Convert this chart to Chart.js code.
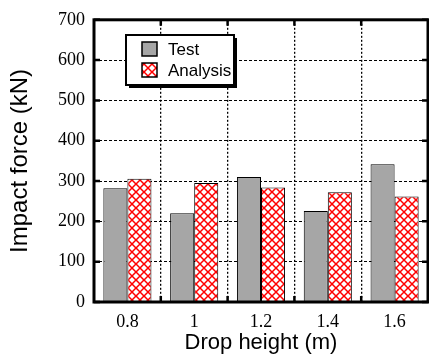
<!DOCTYPE html>
<html>
<head>
<meta charset="utf-8">
<script src="https://cdn.jsdelivr.net/npm/chart.js@4.4.0/dist/chart.umd.min.js"></script>
<style>
  html, body { margin: 0; padding: 0; background: #fff; }
  #wrap { width: 429px; height: 358px; }
</style>
</head>
<body>
<div id="wrap"><canvas id="chart"></canvas></div>
<script>
// datos
const alturas = ['0.8', '1', '1.2', '1.4', '1.6'];
const fuerzaTest = [282, 220, 310, 226, 342];
const fuerzaAnalisis = [306, 295, 284, 272, 262];
const marcasY = [0, 100, 200, 300, 400, 500, 600, 700];

const serif = '"Liberation Serif", "Times New Roman", serif';
const sans = '"Liberation Sans", Arial, sans-serif';

// patron cuadriculado rojo para "Analysis"
function crearPatron() {
    const c = document.createElement('canvas');
    c.width = 8;
    c.height = 8;
    const g = c.getContext('2d');
    g.fillStyle = '#ffffff';
    g.fillRect(0, 0, 8, 8);
    g.strokeStyle = '#ff0000';
    g.lineWidth = 1.5;
    g.beginPath();
    g.moveTo(-1, -1); g.lineTo(9, 9);
    g.moveTo(9, -1); g.lineTo(-1, 9);
    g.stroke();
    return g.createPattern(c, 'repeat');
}
const patronRojo = crearPatron();

// borde grueso, marcas hacia dentro y leyenda con sombra
const marcoPlugin = {
    id: 'marco',
    afterDraw(chart) {
        const ctx = chart.ctx;
        const a = chart.chartArea;
        const sy = chart.scales.y;
        const sx = chart.scales.x;
        ctx.save();
        ctx.strokeStyle = '#000';
        ctx.lineWidth = 3;
        ctx.strokeRect(a.left, a.top, a.right - a.left, a.bottom - a.top);

        ctx.lineWidth = 2.5;
        ctx.beginPath();
        marcasY.forEach(v => {
            const y = sy.getPixelForValue(v);
            ctx.moveTo(a.left, y); ctx.lineTo(a.left + 6, y);
            ctx.moveTo(a.right, y); ctx.lineTo(a.right - 6, y);
        });
        for (let i = 1; i < alturas.length; i++) {
            const x = (sx.getPixelForTick(i - 1) + sx.getPixelForTick(i)) / 2;
            ctx.moveTo(x, a.top); ctx.lineTo(x, a.top + 6);
            ctx.moveTo(x, a.bottom); ctx.lineTo(x, a.bottom - 6);
        }
        ctx.stroke();

        // leyenda
        const bx = 126, by = 35, bw = 108, bh = 50;
        ctx.fillStyle = '#000';
        ctx.fillRect(bx + 3, by + 3, bw, bh);
        ctx.fillStyle = '#fff';
        ctx.fillRect(bx, by, bw, bh);
        ctx.lineWidth = 2;
        ctx.strokeRect(bx, by, bw, bh);

        ctx.font = '17px ' + sans;
        ctx.textBaseline = 'middle';
        chart.data.datasets.forEach((ds, i) => {
            const y = by + 14 + i * 21;
            ctx.fillStyle = ds.backgroundColor;
            ctx.fillRect(bx + 16, y - 7, 15, 14);
            ctx.lineWidth = 1.5;
            ctx.strokeStyle = '#000';
            ctx.strokeRect(bx + 16, y - 7, 15, 14);
            ctx.fillStyle = '#000';
            ctx.fillText(ds.label, bx + 42, y + 1);
        });
        ctx.restore();
    }
};

new Chart(document.getElementById('chart'), {
    type: 'bar',
    data: {
        labels: alturas,
        datasets: [
            {
                label: 'Test',
                data: fuerzaTest,
                backgroundColor: '#a6a6a6',
                borderColor: '#000',
                borderWidth: 1
            },
            {
                label: 'Analysis',
                data: fuerzaAnalisis,
                backgroundColor: patronRojo,
                borderColor: '#000',
                borderWidth: 1
            }
        ]
    },
    options: {
        responsive: true,
        maintainAspectRatio: false,
        animation: false,
        layout: { padding: { top: 13, right: 1, left: 0, bottom: 0 } },
        datasets: { bar: { categoryPercentage: 0.72, barPercentage: 1 } },
        plugins: {
            legend: { display: false },
            tooltip: { enabled: false }
        },
        scales: {
            x: {
                offset: true,
                grid: { offset: true, color: '#000', lineWidth: 1.3, drawTicks: false },
                border: { display: false, dash: [2, 2] },
                ticks: {
                    color: '#000',
                    padding: 9,
                    font: { family: serif, size: 18 }
                },
                title: {
                    display: true,
                    text: 'Drop height (m)',
                    color: '#000',
                    padding: { top: 0, bottom: 2 },
                    font: { family: sans, size: 22 }
                },
                afterFit(s) { s.height = 56; }
            },
            y: {
                min: 0,
                max: 700,
                afterBuildTicks(s) { s.ticks = marcasY.map(v => ({ value: v })); },
                grid: { color: '#000', lineWidth: 1, drawTicks: false },
                border: { display: false, dash: [3, 2] },
                ticks: {
                    color: '#000',
                    padding: 9,
                    font: { family: serif, size: 18 }
                },
                title: {
                    display: true,
                    text: 'Impact force (kN)',
                    color: '#000',
                    padding: { top: 6, bottom: 0 },
                    font: { family: sans, size: 24 }
                },
                afterFit(s) { s.width = 94; }
            }
        }
    },
    plugins: [marcoPlugin]
});
</script>
</body>
</html>
